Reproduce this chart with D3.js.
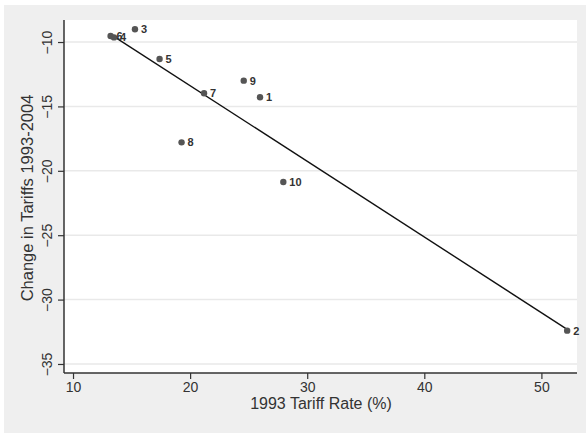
<!DOCTYPE html>
<html>
<head>
<meta charset="utf-8">
<script src="https://cdn.jsdelivr.net/npm/d3@7"></script>
<style>
  body { margin: 0; background: #fff; }
  text { font-family: "Liberation Sans", Arial, sans-serif; }
</style>
</head>
<body>
<div id="chart"></div>
<script>
// data
const labels = ["1", "2", "3", "4", "5", "6", "7", "8", "9", "10"];
const tariff1993 = [25.97, 52.2, 15.29, 13.5, 17.39, 13.21, 21.19, 19.27, 24.58, 27.96];
const change = [-14.29, -32.41, -9.01, -9.64, -11.32, -9.53, -13.98, -17.79, -13.0, -20.87];
const xTicks = [10, 20, 30, 40, 50];
const yTicks = [-10, -15, -20, -25, -30, -35];

const W = 587, H = 433;
const m = {left: 64, right: 577, top: 20, bottom: 373};

const svg = d3.select("#chart").append("svg")
  .attr("width", W).attr("height", H);

// outer grey panel
svg.append("rect").attr("x", 4).attr("y", 5).attr("width", 582).attr("height", 428)
  .attr("fill", "#efefef");
svg.append("rect").attr("x", m.left).attr("y", m.top)
  .attr("width", m.right - m.left).attr("height", m.bottom - m.top)
  .attr("fill", "#fff");

const x = d3.scaleLinear().domain([9.23, 53.04]).range([m.left, m.right]);
const y = d3.scaleLinear().domain([-8.29, -35.7]).range([m.top, m.bottom]);

// gridlines
svg.append("g").selectAll("line").data(yTicks).enter().append("line")
  .attr("x1", m.left).attr("x2", m.right)
  .attr("y1", d => y(d)).attr("y2", d => y(d))
  .attr("stroke", "#e9e9e9").attr("stroke-width", 1.5);

// axes
const xAxis = svg.append("g").attr("transform", "translate(0," + m.bottom + ")")
  .call(d3.axisBottom(x).tickValues(xTicks).tickSize(6).tickPadding(3));
const yAxis = svg.append("g").attr("transform", "translate(" + m.left + ",0)")
  .call(d3.axisLeft(y).tickValues(yTicks).tickSize(6).tickPadding(3));

[xAxis, yAxis].forEach(g => {
  g.select(".domain").attr("stroke", "#333").attr("stroke-width", 1.5);
  g.selectAll(".tick line").attr("stroke", "#333").attr("stroke-width", 1.2);
  g.selectAll(".tick text").attr("fill", "#333").style("font-size", "14px")
    .style("font-family", "Liberation Sans, Arial, sans-serif");
});
xAxis.select(".domain").attr("d", "M" + m.left + ",0H" + m.right);
yAxis.select(".domain").attr("d", "M0," + m.top + "V" + m.bottom);

// rotated y tick labels
yAxis.selectAll(".tick text")
  .attr("transform", "rotate(-90)")
  .attr("x", 0).attr("y", -12)
  .attr("dy", "0")
  .attr("text-anchor", "middle");

// axis titles
svg.append("text").attr("x", 321).attr("y", 409).attr("text-anchor", "middle")
  .attr("fill", "#333").style("font-size", "16px").text("1993 Tariff Rate (%)");
svg.append("text").attr("transform", "translate(33,198) rotate(-90)")
  .attr("text-anchor", "middle").attr("fill", "#333").style("font-size", "16.5px")
  .text("Change in Tariffs 1993-2004");

// fitted line (OLS)
const pts = labels.map((l, i) => ({l: l, x: tariff1993[i], y: change[i]}));
const mx = d3.mean(pts, d => d.x), my = d3.mean(pts, d => d.y);
const slope = d3.sum(pts, d => (d.x - mx) * (d.y - my)) / d3.sum(pts, d => (d.x - mx) ** 2);
const icpt = my - slope * mx;
const ext = d3.extent(pts, d => d.x);
svg.append("path")
  .datum(ext.map(v => [v, icpt + slope * v]))
  .attr("d", d3.line().x(d => x(d[0])).y(d => y(d[1])))
  .attr("stroke", "#111").attr("stroke-width", 1.4).attr("fill", "none");

// points and labels
svg.append("g").selectAll("circle").data(pts).enter().append("circle")
  .attr("cx", d => x(d.x)).attr("cy", d => y(d.y)).attr("r", 3.2)
  .attr("fill", "#555");
svg.append("g").selectAll("text").data(pts).enter().append("text")
  .attr("x", d => x(d.x) + 6).attr("y", d => y(d.y) + 4)
  .attr("fill", "#333").style("font-size", "11px").style("font-weight", "bold")
  .text(d => d.l);
</script>
</body>
</html>
